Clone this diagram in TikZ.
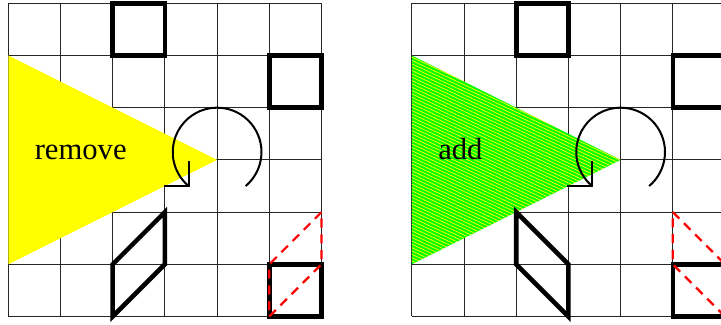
\documentclass[tikz,border=0pt]{standalone}
\usepackage{fontspec}
\setmainfont{Liberation Serif}
\definecolor{brightgreen}{rgb}{0,1,0}
\definecolor{pureyellow}{rgb}{1,1,0}
\begin{document}
\begin{tikzpicture}[x=1cm,y=1cm,
  gridline/.style={line width=0.5pt, black!85},
  thickbox/.style={line width=2.5pt, black, line join=miter},
  arcline/.style={line width=1.1pt, black},
  reddash/.style={line width=1.2pt, red, dash pattern=on 5pt off 3.6pt},
  hatchline/.style={line width=0.4pt, pureyellow},
  lbl/.style={font=\fontsize{16.7}{20}\selectfont, inner sep=0pt, anchor=base west}]
\clip (-0.159,-0.153) rectangle (13.653,6.063);
% ---------- left panel ----------
\begin{scope}
  \draw[gridline] (0,0) grid (6,6);
  \fill[pureyellow] (0,5) -- (0,1) -- (4,3) -- cycle;
  \node[lbl] (remove) at (0.5,3) {remove};
  \draw[thickbox] (2,5) rectangle (3,6);
  \draw[thickbox] (5,4) rectangle (6,5);
  \draw[thickbox] (5,0) rectangle (6,1);
  \draw[thickbox] (2,1) -- (3,2) -- (3,1) -- (2,0) -- cycle;
  \draw[arcline] (4,3.15) ++(-50:0.85) arc[start angle=-50,end angle=230,radius=0.85] coordinate (tipL);
  \draw[arcline] ([yshift=0.48cm]tipL) -- (tipL) -- ([xshift=-0.48cm]tipL);
  \draw[reddash] (5,0) -- (6,1) -- (6,2) -- (5,1) -- cycle;
\end{scope}
% ---------- right panel ----------
\begin{scope}[xshift=7.73cm]
  \draw[gridline] (0,0) grid (6,6);
  \fill[brightgreen] (0,5) -- (0,1) -- (4,3) -- cycle;
  \begin{scope}
    \clip (0,5) -- (0,1) -- (4,3) -- cycle;
    \foreach \c in {1.0,1.064,...,6.9}
      \draw[hatchline] (0,\c) -- (4,\c-1.85);
  \end{scope}
  \node[lbl] (add) at (0.5,3) {add};
  \draw[thickbox] (2,5) rectangle (3,6);
  \draw[thickbox] (5,4) rectangle (6,5);
  \draw[thickbox] (5,0) rectangle (6,1);
  \draw[thickbox] (2,2) -- (3,1) -- (3,0) -- (2,1) -- cycle;
  \draw[arcline] (4,3.15) ++(-50:0.85) arc[start angle=-50,end angle=230,radius=0.85] coordinate (tipR);
  \draw[arcline] ([yshift=0.48cm]tipR) -- (tipR) -- ([xshift=-0.48cm]tipR);
  \draw[reddash] (5,2) -- (6,1) -- (6,0) -- (5,1) -- cycle;
\end{scope}
\end{tikzpicture}
\end{document}
